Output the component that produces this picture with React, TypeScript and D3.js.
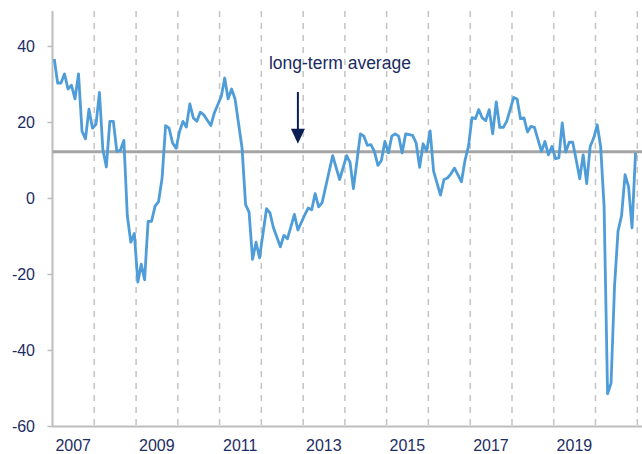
import { useRef, useEffect } from "react";
import * as d3 from "d3";

const months = [
  "2007-01","2007-02","2007-03","2007-04","2007-05","2007-06","2007-07","2007-08","2007-09","2007-10","2007-11","2007-12",
  "2008-01","2008-02","2008-03","2008-04","2008-05","2008-06","2008-07","2008-08","2008-09","2008-10","2008-11","2008-12",
  "2009-01","2009-02","2009-03","2009-04","2009-05","2009-06","2009-07","2009-08","2009-09","2009-10","2009-11","2009-12",
  "2010-01","2010-02","2010-03","2010-04","2010-05","2010-06","2010-07","2010-08","2010-10","2010-11",
  "2011-01","2011-02","2011-03","2011-04","2011-05","2011-07","2011-08","2011-09","2011-10","2011-11","2011-12",
  "2012-02","2012-03","2012-04","2012-06","2012-07","2012-08","2012-10","2012-11",
  "2013-01","2013-02","2013-03","2013-04","2013-05","2013-06","2013-09","2013-11",
  "2014-01","2014-02","2014-03","2014-05","2014-06","2014-07","2014-08","2014-09","2014-10","2014-11","2014-12",
  "2015-01","2015-02","2015-03","2015-04","2015-05","2015-06","2015-07","2015-08","2015-09","2015-10","2015-11","2015-12",
  "2016-01","2016-02","2016-04","2016-05","2016-06","2016-07","2016-08","2016-10","2016-11","2016-12",
  "2017-01","2017-02","2017-03","2017-04","2017-05","2017-06","2017-07","2017-08","2017-09","2017-10","2017-11",
  "2018-01","2018-02","2018-03","2018-04","2018-05","2018-06","2018-07","2018-08","2018-09","2018-10","2018-11","2018-12",
  "2019-01","2019-02","2019-03","2019-04","2019-05","2019-06","2019-07","2019-08","2019-09","2019-10","2019-11","2019-12",
  "2020-01","2020-02","2020-03","2020-04","2020-05","2020-06","2020-07","2020-08","2020-09","2020-10","2020-11","2020-12",
];

const values = [
  36.7, 30.4, 30.4, 32.8, 28.8, 29.8, 26.2, 32.8, 17.7, 15.7, 23.5, 18.5,
  19.5, 27.9, 12.9, 8.3, 20.3, 20.3, 12.4, 12.7, 15.3, -4.6, -11.5, -9.2,
  -22, -17.3, -21.4, -6, -6, -2, -0.8, 5.4, 19.2, 18.5, 14.6, 13.2,
  17.7, 20.3, 18.8, 24.9, 21.2, 20.3, 22.7, 22, 19.2, 22.5,
  26.9, 31.7, 26.2, 28.8, 26.2, 13.3, -1.6, -3.6, -16, -11.5, -15.6,
  -2.7, -3.8, -7.7, -12.7, -9.7, -10.6, -4.2, -8.3,
  -4.2, -2.5, -3, 1.3, -2.2, -1.1, 11.3, 5,
  11.3, 9.5, 2.6, 17, 16.4, 14, 14.2, 12.4, 8.7, 10, 15,
  12, 16.4, 17, 16.4, 12, 17, 16.8, 16.6, 14.6, 8.2, 14.4, 12.5,
  17.8, 7.2, 0.9, 5, 5.4, 6.5, 8, 4.4, 10, 13.7,
  21.3, 21, 23.4, 21.2, 20.5, 23.4, 17, 25.4, 18.7, 18.7, 20.3,
  26.6, 26.2, 21, 21.2, 17.5, 19, 18.7, 15.5, 12.4, 15, 11.5, 13.7,
  10.5, 10.7, 19.9, 12.2, 14.8, 14.8, 10.2, 5.2, 11.5, 3.9, 13.7, 15.9,
  19.4, 13.7, -2, -51.4, -48.6, -23, -8.6, -4.5, 6.3, 3.1, -7.7, 12,
];

const longTermAverage = 12.3;
const yTicks = [40, 20, 0, -20, -40, -60];
const yearLabels = [2007, 2009, 2011, 2013, 2015, 2017, 2019];
const annotationLabel = "long-term average";
const annotationMonth = "2012-11";

export default function App() {
  const ref = useRef<SVGSVGElement>(null);

  useEffect(() => {
    if (!ref.current) return;
    const svg = d3.select(ref.current); svg.selectAll("*").remove();
    const W = 642, H = 454;
    const left = 52.5, right = 637.3, top = 11, bottom = 426.5;
    const font = "'Liberation Sans', Arial, sans-serif";
    const navy = "#1c2d64";
    const parse = d3.timeParse("%Y-%m");
    const x = d3.scaleTime().domain([new Date(2007, 0, 1), new Date(2021, 0, 1)]).range([left, right]);
    const y = d3.scaleLinear().domain([-60, 40]).range([bottom, bottom - 380]);
    const mid = (d: Date) => (x(d) + x(d3.timeMonth.offset(d, 1))) / 2;
    const data = months.map((m, i) => ({ date: parse(m)!, value: values[i] }));

    // year dividers
    const years = d3.timeYear.range(new Date(2008, 0, 1), new Date(2021, 0, 2));
    svg.selectAll(".div").data(years).join("line")
      .attr("x1", d => x(d)).attr("x2", d => x(d)).attr("y1", top).attr("y2", bottom)
      .attr("stroke", "#c3c3c3").attr("stroke-width", 1.5).attr("stroke-dasharray", "6,6");

    // axes frame
    svg.append("line").attr("x1", left).attr("x2", left).attr("y1", top).attr("y2", bottom)
      .attr("stroke", "#bdbdbd").attr("stroke-width", 2);
    svg.append("line").attr("x1", left).attr("x2", W).attr("y1", bottom).attr("y2", bottom)
      .attr("stroke", "#bdbdbd").attr("stroke-width", 2);
    svg.selectAll(".yt").data(yTicks).join("line")
      .attr("x1", left - 5).attr("x2", left).attr("y1", d => y(d)).attr("y2", d => y(d))
      .attr("stroke", "#bdbdbd").attr("stroke-width", 1.5);
    svg.selectAll(".yl").data(yTicks).join("text")
      .attr("x", 35).attr("y", d => y(d)).attr("dy", "0.36em").attr("text-anchor", "end")
      .attr("fill", navy).attr("font-size", "16px").attr("font-family", font).text(d => d);
    svg.selectAll(".xl").data(yearLabels).join("text")
      .attr("x", d => x(new Date(d, 6, 1))).attr("y", 451).attr("text-anchor", "middle")
      .attr("fill", navy).attr("font-size", "16px").attr("font-family", font).text(d => d);

    // long-term average
    svg.append("line").attr("x1", left).attr("x2", W).attr("y1", y(longTermAverage)).attr("y2", y(longTermAverage))
      .attr("stroke", "#a5a5a5").attr("stroke-width", 3);

    const line = d3.line<{ date: Date; value: number }>().x(d => mid(d.date)).y(d => y(d.value));
    svg.append("path").datum(data).attr("fill", "none").attr("stroke", "#4e9dd8")
      .attr("stroke-width", 2.8).attr("stroke-linejoin", "round").attr("d", line);

    // annotation
    const ax = mid(parse(annotationMonth)!);
    const tipY = y(longTermAverage) - 8;
    svg.append("text").attr("x", ax + 42).attr("y", 69).attr("text-anchor", "middle")
      .attr("fill", "#1a2b5f").attr("font-size", "17.5px").attr("font-family", font).text(annotationLabel);
    svg.append("line").attr("x1", ax).attr("x2", ax).attr("y1", 92).attr("y2", tipY - 12)
      .attr("stroke", "#0c1f55").attr("stroke-width", 2);
    svg.append("path").attr("d", `M${ax - 7},${tipY - 15}L${ax + 7},${tipY - 15}L${ax},${tipY}Z`).attr("fill", "#0c1f55");

    svg.attr("width", W).attr("height", H);
  }, []);

  return (
    <div style={{ position: "fixed", left: 0, top: 0, width: 642, height: 454, background: "#fff" }}>
      <svg ref={ref} width={642} height={454} style={{ display: "block" }} />
    </div>
  );
}
